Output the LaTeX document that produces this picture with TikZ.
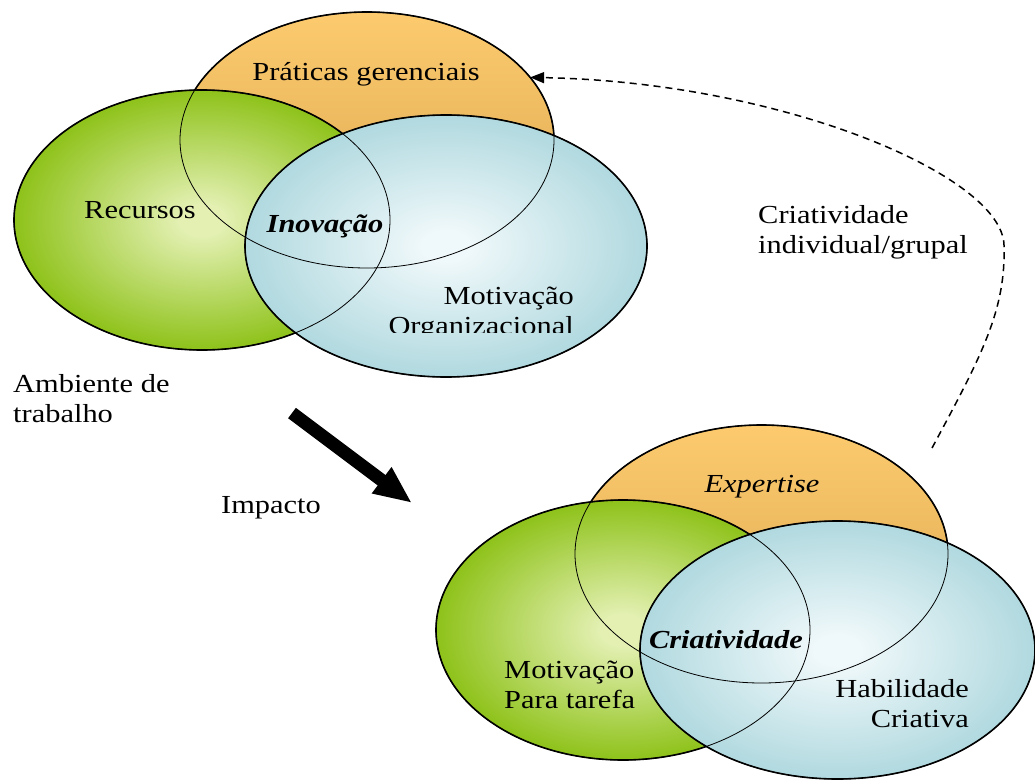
\documentclass[tikz,border=0pt]{standalone}
\usepackage{fontspec}
\setmainfont{Liberation Serif}
\usetikzlibrary{arrows.meta,shapes.geometric}

% fill colours of the three circles
\definecolor{orTop}{HTML}{FDCB6E}
\definecolor{orBot}{HTML}{D8A44F}
\definecolor{grOut}{HTML}{8EC21A}
\definecolor{grIn}{HTML}{E3F0B2}
\definecolor{blOut}{HTML}{B0D9DF}
\definecolor{blIn}{HTML}{EFF8FA}

\pgfdeclareradialshading{greenglow}{\pgfpoint{0bp}{0bp}}{color(0bp)=(grIn); color(3bp)=(grIn); color(25bp)=(grOut); color(50bp)=(grOut)}
\pgfdeclareradialshading{blueglow}{\pgfpoint{0bp}{0bp}}{color(0bp)=(blIn); color(3bp)=(blIn); color(25bp)=(blOut); color(50bp)=(blOut)}

\tikzset{
  blob/.style={ellipse, inner sep=0pt, outer sep=0pt, draw=black, line width=1.6pt},
  rim/.style={ellipse, inner sep=0pt, outer sep=0pt, draw=black, line width=0.8pt},
  orangefill/.style={top color=orTop, bottom color=orBot},
  greenfill/.style={shade, shading=greenglow},
  bluefill/.style={shade, shading=blueglow},
  % sizes of the circles of each group
  sizePG/.style={minimum width=374pt, minimum height=256pt},
  sizeRE/.style={minimum width=376pt, minimum height=260pt},
  sizeMO/.style={minimum width=402pt, minimum height=262pt},
  sizeEX/.style={minimum width=373pt, minimum height=258pt},
  sizeMT/.style={minimum width=374pt, minimum height=260pt},
  sizeHC/.style={minimum width=395pt, minimum height=258pt},
  lbl/.style={font=\fontsize{26}{30}\selectfont, xscale=1.17, transform shape, inner sep=0pt},
  keyword/.style={lbl, font=\fontsize{26}{30}\selectfont\bfseries\itshape},
  bigarrow/.style={line width=13pt, -{Triangle[length=38pt,width=30pt]}},
  feedback/.style={line width=1.5pt, dash pattern=on 7pt off 5pt, -{Triangle[length=14pt,width=11pt]}},
}

\begin{document}
\begin{tikzpicture}[x=1pt,y=-1pt]
\useasboundingbox (0,0) rectangle (1035,781);

% ---- upper group: innovation ----
\node[blob, orangefill, sizePG] (pg) at (367,140) {};
\node[blob, greenfill, sizeRE] (re) at (202,220) {};
\node[blob, bluefill, sizeMO] (mo) at (446,246) {};
\node[rim, sizePG] (pgR) at (pg.center) {};
\node[rim, sizeRE] (reR) at (re.center) {};
\node[rim, sizeMO] (moR) at (mo.center) {};

\node[lbl, anchor=base] (tPG) at (366,81) {Práticas gerenciais};
\node[lbl, anchor=base] (tRE) at (140,218) {Recursos};
\node[keyword, anchor=base] (tIN) at (325,232) {Inovação};
% multi-line labels are placed by the baseline of their last line
\begin{scope}
  \clip (370,270) rectangle (620,332);
  \node[lbl, anchor=base east, align=right] (tMO) at (574,334) {Motivação\\Organizacional};
\end{scope}

\node[lbl, anchor=base west, align=left] (tAT) at (13,422) {Ambiente de\\trabalho};

% ---- impact arrow ----
\coordinate (impTail) at (292,413);
\coordinate (impTip) at (412,503);
\draw[bigarrow] (impTail) -- (impTip);
\node[lbl, anchor=base] (tIM) at (271,513) {Impacto};

% ---- lower group: creativity ----
\node[blob, orangefill, sizeEX] (ex) at (761.5,554) {};
\node[blob, greenfill, sizeMT] (mt) at (623,630) {};
\node[blob, bluefill, sizeHC] (hc) at (837.5,650) {};
\node[rim, sizeEX] (exR) at (ex.center) {};
\node[rim, sizeMT] (mtR) at (mt.center) {};
\node[rim, sizeHC] (hcR) at (hc.center) {};

\node[lbl, anchor=base, font=\fontsize{26}{30}\selectfont\itshape] (tEX) at (762,492) {Expertise};
\node[keyword, anchor=base] (tCR) at (726,648) {Criatividade};
\node[lbl, anchor=base west, align=left] (tMT) at (504,708) {Motivação\\Para tarefa};
\node[lbl, anchor=base east, align=right] (tHC) at (969,727) {Habilidade\\Criativa};

% ---- feedback loop ----
\node[lbl, anchor=base west, align=left] (tCI) at (758,253) {Criatividade\\individual/grupal};
\coordinate (fbStart) at (932,448);
\coordinate (fbBend) at (1004,245);
\draw[feedback] (fbStart) .. controls (982,355) and (1006,310) .. (fbBend)
  .. controls (1002,175) and (780,82) .. (pg.21);
\end{tikzpicture}
\end{document}
